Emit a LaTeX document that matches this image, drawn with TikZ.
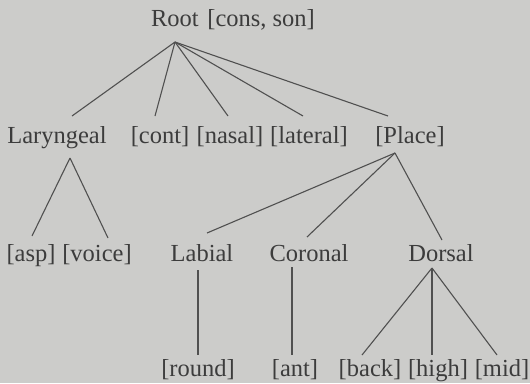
\documentclass[tikz,border=0pt]{standalone}
\usepackage{fontspec}
\setmainfont{Liberation Serif}
\definecolor{paper}{RGB}{204,204,202}
\definecolor{ink}{RGB}{60,60,60}
\begin{document}
\begin{tikzpicture}[x=1pt,y=-1pt,
  lbl/.style={anchor=base,inner sep=0pt,text=ink,font=\fontsize{24.5}{28}\selectfont},
  edge/.style={draw=ink!90,line width=1.1pt}]
\fill[paper] (0,0) rectangle (530,383);
\useasboundingbox (0,0) rectangle (530,383);
% text nodes
\node[lbl] (root) at (233,26) {Root\hspace{0.35em}[cons, son]};
\node[lbl] (lar) at (57,143) {Laryngeal};
\node[lbl] (cont) at (160,143) {[cont]};
\node[lbl] (nasal) at (230,143) {[nasal]};
\node[lbl] (lat) at (309,143) {[lateral]};
\node[lbl] (place) at (410,143) {[Place]};
\node[lbl] (asp) at (31,261) {[asp]};
\node[lbl] (voice) at (97,261) {[voice]};
\node[lbl] (lab) at (202,261) {Labial};
\node[lbl] (cor) at (309,261) {Coronal};
\node[lbl] (dor) at (441,261) {Dorsal};
\node[lbl] (round) at (198,376) {[round]};
\node[lbl] (ant) at (295,376) {[ant]};
\node[lbl] (back) at (370,376) {[back]};
\node[lbl] (high) at (438,376) {[high]};
\node[lbl] (mid) at (502,376) {[mid]};
% attachment points
\coordinate (rootA) at (175,42);
\coordinate (larT) at (72,116);
\coordinate (contT) at (155,116);
\coordinate (nasalT) at (228,116);
\coordinate (latT) at (303,116);
\coordinate (placeT) at (388,116);
\coordinate (larA) at (70,158);
\coordinate (aspT) at (32,236);
\coordinate (voiceT) at (108,238);
\coordinate (placeA) at (395,153);
\coordinate (labT) at (207,233);
\coordinate (corT) at (307,237);
\coordinate (dorT) at (442,240);
\coordinate (labA) at (198,270);
\coordinate (roundT) at (198,355);
\coordinate (corA) at (292,267);
\coordinate (antT) at (292,355);
\coordinate (dorA) at (432,268);
\coordinate (backT) at (362,355);
\coordinate (highT) at (432,355);
\coordinate (midT) at (497,355);
% connectors
\foreach \t in {larT,contT,nasalT,latT,placeT} \draw[edge] (rootA) -- (\t);
\foreach \t in {aspT,voiceT} \draw[edge] (larA) -- (\t);
\foreach \t in {labT,corT,dorT} \draw[edge] (placeA) -- (\t);
\draw[edge] (labA) -- (roundT);
\draw[edge] (corA) -- (antT);
\foreach \t in {backT,highT,midT} \draw[edge] (dorA) -- (\t);
\end{tikzpicture}
\end{document}
